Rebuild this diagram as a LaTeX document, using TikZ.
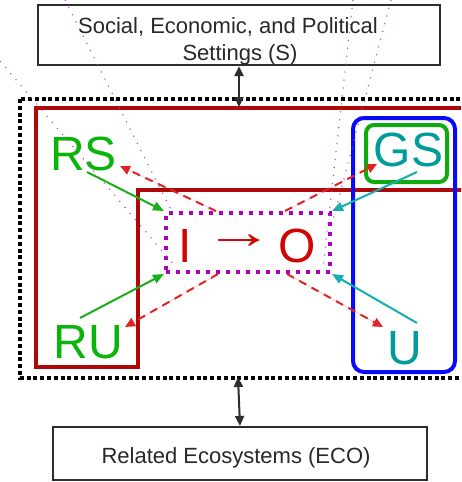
\documentclass[tikz,border=0pt]{standalone}
\usepackage{fontspec}
\usepackage{graphicx}
\setmainfont{Liberation Sans}
\usetikzlibrary{arrows.meta}

\definecolor{framegray}{RGB}{45,45,45}
\definecolor{textgray}{RGB}{40,40,40}
\definecolor{regionred}{RGB}{175,8,8}
\definecolor{zoneblue}{RGB}{10,10,250}
\definecolor{boxgreen}{RGB}{15,170,15}
\definecolor{arrowgreen}{RGB}{25,175,25}
\definecolor{labelgreen}{RGB}{10,180,10}
\definecolor{labelteal}{RGB}{0,155,155}
\definecolor{arrowteal}{RGB}{20,175,175}
\definecolor{iored}{RGB}{210,5,5}
\definecolor{flowred}{RGB}{225,35,35}
\definecolor{iopurple}{RGB}{175,0,185}
\definecolor{guidepurple}{RGB}{185,60,200}

\begin{document}
\begin{tikzpicture}[x=1pt,y=-1pt,
  panel/.style={draw=framegray,line width=2.2pt,inner sep=0pt},
  caption/.style={text=textgray,font=\fontsize{22pt}{26pt}\selectfont,inner sep=0pt,anchor=base},
  biglabel/.style={font=\fontsize{48pt}{48pt}\selectfont,inner sep=0pt,anchor=base},
  feed/.style={line width=2pt,-{Triangle[length=11pt,width=9pt]}},
  flow/.style={draw=flowred,fill=flowred,line width=2pt,dash pattern=on 8pt off 6pt,-{Triangle[length=10pt,width=9pt]}},
  link/.style={draw=framegray,fill=framegray,line width=2pt,{Triangle[length=10pt,width=9pt]}-{Triangle[length=10pt,width=9pt]}},
  guide/.style={draw=guidepurple,line width=1.1pt,dash pattern=on 1.1pt off 6.9pt}]

\clip (0,0) rectangle (461,482);
\fill[white] (0,0) rectangle (461,482);

% system boundary (dotted) and the resource region
\draw[black,line width=4pt,dash pattern=on 4pt off 2.8pt] (20,99) rectangle (495,378);
\draw[regionred,line width=4pt] (36,108) -- (495,108) -- (495,190) -- (138,190) -- (138,367) -- (36,367) -- cycle;

% governance / users region
\draw[zoneblue,line width=4pt,rounded corners=11pt] (353,118) rectangle (455,372);
\draw[boxgreen,line width=4pt,rounded corners=8pt] (366,125) rectangle (447,182);

% outer settings and related ecosystems
\node[panel,minimum width=402pt,minimum height=60pt] (S) at (239,35) {};
\node[caption] (s1) at (228,33) {Social, Economic, and Political};
\node[caption] (s2) at (240,60) {Settings (S)};
\node[panel,minimum width=374pt,minimum height=53pt] (ECO) at (240,453.5) {};
\node[caption] (ecol) at (236,463) {Related Ecosystems (ECO)};

% focal action situation
\node[draw=iopurple,line width=4pt,dash pattern=on 4pt off 6pt,minimum width=164pt,minimum height=59pt,inner sep=0pt] (io) at (248,242.5) {};
\node[biglabel,text=iored] (inp) at (185.5,262) {I};
\node[text=iored,font=\fontsize{48pt}{48pt}\selectfont,inner sep=0pt] (arr) at (239,242) {\scalebox{1.45}[1]{→}};
\node[biglabel,text=iored] (out) at (297.5,262) {O};

% subsystem labels
\node[biglabel,text=labelgreen] (RS) at (83.5,170) {RS};
\node[biglabel,text=labelgreen] (RU) at (88.5,358) {RU};
\node[biglabel,text=labelteal] (GS) at (408.5,166) {GS};
\node[biglabel,text=labelteal] (U) at (405,364) {U};

% connector ends near the labels
\coordinate (rsout) at (87,172);
\coordinate (ruout) at (80,318);
\coordinate (gsout) at (417,172);
\coordinate (uout) at (417,323);
\coordinate (rsin) at (120,166);
\coordinate (gsin) at (377,164);
\coordinate (ruin) at (125,327);
\coordinate (uin) at (383,327);
\coordinate (topjoin) at (239,107);
\coordinate (botjoin) at (238,377);

% inputs into the action situation
\draw[feed,arrowgreen] (rsout) -- (io.north west);
\draw[feed,arrowgreen] (ruout) -- (io.south west);
\draw[feed,arrowteal] (gsout) -- (io.north east);
\draw[feed,arrowteal] (uout) -- (io.south east);

% feedback of outcomes
\draw[flow] ([xshift=52pt]io.north west) -- (rsin);
\draw[flow] ([xshift=-47pt]io.north east) -- (gsin);
\draw[flow] ([xshift=54pt]io.south west) -- (ruin);
\draw[flow] ([xshift=-45pt]io.south east) -- (uin);

% links to the outer settings
\draw[link] (S.south) -- (topjoin);
\draw[link] (botjoin) -- (ECO.north);

% thin guide lines
\draw[guide] (0,61) -- (175,266);
\draw[guide] (65,0) -- (172,212);
\draw[guide] (353,0) -- (323,268);
\draw[guide] (391,0) -- (333,220);
\end{tikzpicture}
\end{document}
